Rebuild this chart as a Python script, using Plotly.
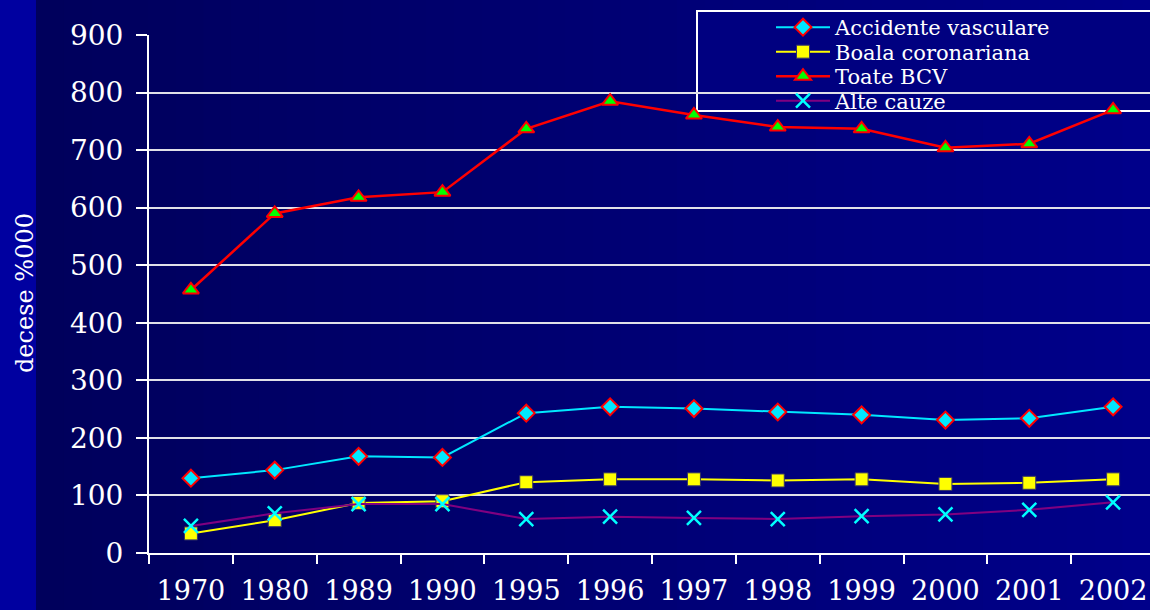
import plotly.graph_objects as go

years = ["1970", "1980", "1989", "1990", "1995", "1996", "1997", "1998", "1999", "2000", "2001", "2002"]
accidente = [130, 144, 168, 166, 243, 254, 251, 245, 240, 231, 234, 254]
boala = [34, 57, 87, 90, 123, 128, 128, 126, 128, 120, 122, 128]
toate = [457, 590, 618, 627, 737, 785, 761, 740, 737, 704, 711, 770]
alte = [47, 69, 85, 85, 59, 63, 61, 59, 64, 67, 75, 88]

W, H = 1150, 610
L, R, T, B = 149, 0, 35, 57
PW, PH = W - L - R, H - T - B
FONT = "DejaVu Serif, Liberation Serif, serif"

def px(x):
    return (x - L) / PW

def py(y):
    return (H - B - y) / PH

fig = go.Figure()

fig.add_trace(go.Scatter(
    x=years, y=accidente, name="Accidente vasculare", mode="lines+markers", legend="legend",
    line=dict(color="#00e8ff", width=2),
    marker=dict(symbol="diamond", size=13, color="#00e8ff", line=dict(color="#ff0000", width=2))))
fig.add_trace(go.Scatter(
    x=years, y=boala, name="Boala coronariana", mode="lines+markers", legend="legend2",
    line=dict(color="#ffff00", width=2),
    marker=dict(symbol="square", size=13, color="#ffff00", line=dict(color="#333366", width=1))))
fig.add_trace(go.Scatter(
    x=years, y=toate, name="Toate BCV", mode="lines+markers", legend="legend3",
    line=dict(color="#ff0000", width=2.5),
    marker=dict(symbol="triangle-up", size=14, color="#00ff00", line=dict(color="#ff0000", width=2))))
fig.add_trace(go.Scatter(
    x=years, y=alte, name="Alte cauze", mode="lines+markers", legend="legend4",
    line=dict(color="#800080", width=2),
    marker=dict(symbol="x-thin-open", size=14, color="#00ffff", line=dict(color="#00ffff", width=2.5))))

shapes = []
# background gradient strips
n = 40
x0p, x1p = 36, W
for i in range(n):
    a = x0p + (x1p - x0p) * i / n
    b = x0p + (x1p - x0p) * (i + 1) / n + 1
    t = i / (n - 1)
    blue = int(92 + (138 - 92) * t)
    shapes.append(dict(type="rect", xref="paper", yref="paper", layer="below",
                       x0=px(a), x1=px(b), y0=py(H), y1=py(0),
                       fillcolor=f"rgb(0,0,{blue})", line=dict(width=0)))
# left brighter strip
shapes.append(dict(type="rect", xref="paper", yref="paper", layer="below",
                   x0=px(0), x1=px(36), y0=py(H), y1=py(0),
                   fillcolor="rgb(0,0,160)", line=dict(width=0)))
# legend box
shapes.append(dict(type="rect", xref="paper", yref="paper", layer="between",
                   x0=px(697), x1=px(1165), y0=py(111), y1=py(11),
                   fillcolor="rgb(0,0,128)", line=dict(color="white", width=2)))

def leg(ycenter):
    return dict(x=px(771), y=py(ycenter), xanchor="left", yanchor="middle",
                bgcolor="rgba(0,0,0,0)", borderwidth=0,
                font=dict(size=21, color="white", family=FONT), itemwidth=54)

fig.update_layout(
    width=W, height=H,
    margin=dict(l=L, r=R, t=T, b=B),
    paper_bgcolor="rgb(0,0,100)",
    plot_bgcolor="rgba(0,0,0,0)",
    font=dict(family=FONT, color="white"),
    shapes=shapes,
    showlegend=True,
    legend=leg(27.5), legend2=leg(52), legend3=leg(76.5), legend4=leg(101),
    annotations=[dict(text="decese %000", textangle=-90, xref="paper", yref="paper",
                      x=px(25), y=py(293), xanchor="center", yanchor="middle", showarrow=False,
                      font=dict(size=24, color="white", family=FONT))],
)

fig.update_xaxes(
    type="category", range=[-0.5, 11.44],
    showline=True, linecolor="white", linewidth=2,
    ticks="outside", tickson="boundaries", ticklen=9, tickcolor="white", tickwidth=2,
    showgrid=False, tickfont=dict(size=27, color="white", family=FONT),
    ticklabelstandoff=13,
)
fig.update_yaxes(
    range=[0, 900], dtick=100,
    showline=True, linecolor="white", linewidth=2,
    ticks="outside", ticklen=11, tickcolor="white", tickwidth=2,
    showgrid=True, gridcolor="#e0e0e8", gridwidth=2,
    zeroline=False, tickfont=dict(size=28, color="white", family=FONT),
    ticklabelstandoff=7,
)

fig.write_html("out.html", config={"displayModeBar": False},
               post_script="document.body.style.margin='0';document.body.style.overflow='hidden';")
